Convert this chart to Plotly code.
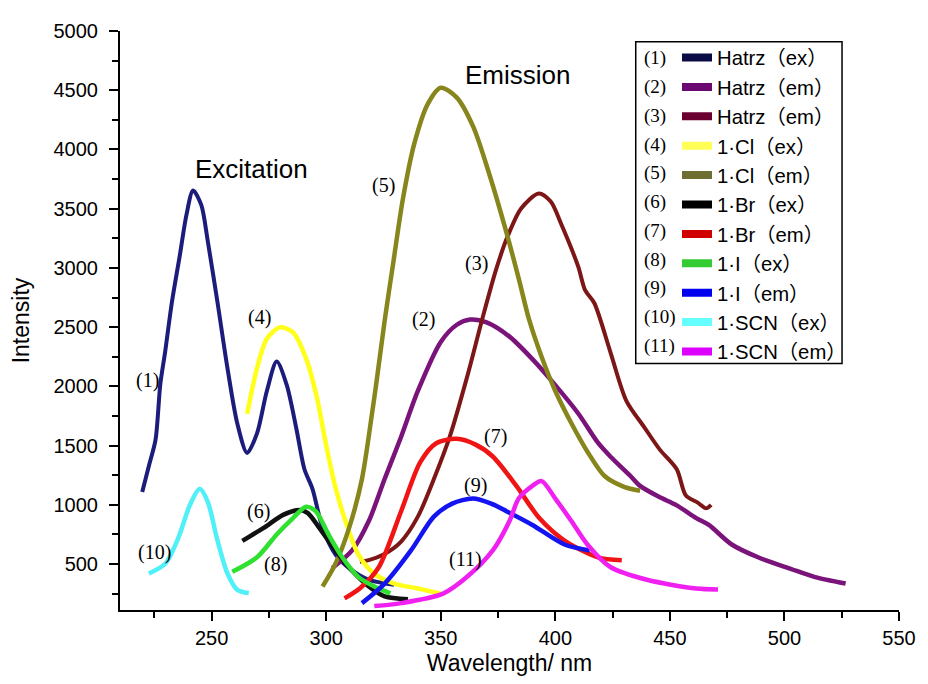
import plotly.graph_objects as go

# ---------------- data ----------------
hatrz_ex_x = [219.7, 222.6, 225.5, 227.6, 229.7, 232.6, 236.2, 239.0, 241.9, 245.5, 248.3, 252.6, 256.9,
              261.2, 265.5, 269.8, 274.1, 278.4, 282.7, 287.0, 290.5, 294.0, 298.4, 304.0, 311.0, 318.6, 329.7]
hatrz_ex_y = [1108, 1328, 1548, 2019, 2291, 2704, 3117, 3448, 3654, 3530, 3227, 2704, 2154,
              1686, 1438, 1603, 1961, 2209, 2016, 1640, 1300, 1135, 805, 582, 450, 367, 326]

hatrz_em2_x = [302.7, 311.3, 318.6, 325.5, 332.7, 340.0, 350.0, 357.0, 362.8, 370.0, 380.0, 390.0, 398.5,
               410.0, 418.6, 424.0, 432.8, 437.0, 445.0, 453.0, 461.5, 467.0, 477.0, 488.5, 503.0, 513.0, 526.7]
hatrz_em2_y = [467, 615, 863, 1218, 1575, 1961, 2375, 2520, 2564, 2540, 2420, 2230, 2044,
               1771, 1524, 1408, 1243, 1160, 1070, 995, 888, 830, 665, 557, 458, 392, 335]

hatrz_em3_x = [314.7, 318.6, 325.0, 332.7, 340.0, 347.0, 354.0, 361.5, 368.0, 374.0, 379.0, 385.0, 392.8,
               398.0, 402.7, 410.0, 413.0, 417.0, 424.0, 431.0, 438.8, 445.6, 453.0, 457.0, 462.0, 465.8, 468.0]
hatrz_em3_y = [520, 533, 580, 690, 900, 1218, 1580, 2080, 2560, 2977, 3258, 3500, 3629,
               3560, 3365, 3010, 2812, 2704, 2292, 1878, 1656, 1466, 1300, 1078, 1020, 970, 1000]

cl_ex_x = [265.5, 269.8, 274.1, 279.8, 285.5, 291.2, 296.0, 300.0, 304.0, 308.4, 314.0, 321.0, 329.7, 340.0, 350.0]
cl_ex_y = [1769, 2154, 2402, 2498, 2457, 2236, 1900, 1500, 1150, 863, 582, 417, 335, 293, 250]

cl_em_x = [298.4, 304.0, 310.0, 315.6, 320.0, 322.0, 325.6, 329.2, 333.5, 338.5, 344.3, 350.0, 357.0,
           364.2, 371.4, 378.5, 384.2, 388.5, 394.0, 400.0, 407.0, 414.3, 421.5, 430.0, 437.0]
cl_em_y = [310, 500, 805, 1218, 1771, 2044, 2567, 3035, 3585, 4053, 4383, 4521, 4438,
           4190, 3778, 3310, 2897, 2567, 2250, 1961, 1689, 1440, 1243, 1152, 1119]

br_ex_x = [263.4, 272.7, 281.2, 288.4, 292.0, 297.0, 304.0, 311.0, 318.6, 325.5, 335.7]
br_ex_y = [695, 805, 915, 957, 930, 805, 615, 450, 310, 227, 202]

br_em_x = [308.0, 315.0, 323.0, 332.7, 341.0, 348.0, 357.0, 365.0, 372.7, 383.0, 393.0, 404.0, 418.6, 429.0]
br_em_y = [210, 300, 475, 946, 1358, 1520, 1557, 1510, 1408, 1160, 888, 698, 557, 533]

i_ex_x = [259.0, 269.8, 278.4, 285.5, 291.2, 295.5, 301.0, 307.0, 314.0, 321.0, 328.0]
i_ex_y = [434, 557, 750, 888, 984, 944, 750, 557, 392, 310, 252]

i_em_x = [315.6, 325.5, 337.0, 347.0, 355.0, 364.0, 372.0, 378.7, 390.0, 404.0, 415.0]
i_em_y = [170, 335, 615, 900, 1010, 1053, 1010, 946, 830, 665, 615]

scn_ex_x = [222.6, 229.7, 235.5, 240.5, 244.8, 248.3, 252.6, 256.9, 261.2, 266.2]
scn_ex_y = [420, 502, 723, 998, 1135, 1025, 695, 420, 282, 255]

scn_em_x = [321.0, 332.7, 351.0, 361.5, 372.7, 380.0, 384.0, 390.0, 394.0, 400.0, 407.0, 414.0,
            424.0, 440.0, 461.5, 471.0]
scn_em_y = [145, 170, 250, 392, 615, 863, 1053, 1160, 1200, 1053, 863, 665, 475, 367, 293, 285]

series_names = ["Hatrz\uff08ex\uff09", "Hatrz\uff08em\uff09", "Hatrz\uff08em\uff09", "1\u00b7Cl\uff08ex\uff09",
                "1\u00b7Cl\uff08em\uff09", "1\u00b7Br\uff08ex\uff09", "1\u00b7Br\uff08em\uff09", "1\u00b7I\uff08ex\uff09",
                "1\u00b7I\uff08em\uff09", "1\u00b7SCN\uff08ex\uff09", "1\u00b7SCN\uff08em\uff09"]
series_tags = ["(1)", "(2)", "(3)", "(4)", "(5)", "(6)", "(7)", "(8)", "(9)", "(10)", "(11)"]

label_text = ["(1)", "(4)", "(6)", "(10)", "(8)", "(5)", "(3)", "(2)", "(7)", "(9)", "(11)", "Excitation", "Emission"]
label_x = [222, 271, 270.5, 225, 278, 325, 365.8, 342.6, 374, 365, 360.6, 267.5, 383.4]
label_y = [2050, 2580, 946, 600, 500, 3695, 3035, 2564, 1573, 1160, 540, 3836, 4630]

x_tick_vals = [250, 300, 350, 400, 450, 500, 550]
y_tick_vals = [500, 1000, 1500, 2000, 2500, 3000, 3500, 4000, 4500, 5000]

# ---------------- styling ----------------
colors = ["#1c1c7c", "#7a147a", "#7d1616", "#ffff1a", "#86861c", "#111111",
          "#f01414", "#30e030", "#1414f0", "#50f0f8", "#f020f0"]
legend_colors = ["#0a0a45", "#6a0a70", "#6a0030", "#ffff55", "#6e6e30", "#000000",
                 "#d00000", "#33cc33", "#0000ee", "#66ffff", "#dd00ff"]

all_x = [hatrz_ex_x, hatrz_em2_x, hatrz_em3_x, cl_ex_x, cl_em_x, br_ex_x, br_em_x,
         i_ex_x, i_em_x, scn_ex_x, scn_em_x]
all_y = [hatrz_ex_y, hatrz_em2_y, hatrz_em3_y, cl_ex_y, cl_em_y, br_ex_y, br_em_y,
         i_ex_y, i_em_y, scn_ex_y, scn_em_y]

fig = go.Figure()
for i in range(11):
    w = 4 if i in (0, 2) else 4.5
    fig.add_trace(go.Scatter(x=all_x[i], y=all_y[i], mode="lines",
                             line=dict(color=colors[i], width=w, shape="spline", smoothing=0.8),
                             showlegend=False, hoverinfo="skip"))
# legend-only entries
for i in range(11):
    fig.add_trace(go.Scatter(x=[None], y=[None], mode="lines", name=series_names[i],
                             line=dict(color=legend_colors[i], width=8), showlegend=True))

sans = "Liberation Sans, Arial, Noto Sans CJK SC, sans-serif"
serif = "Liberation Serif, Times New Roman, serif"

# page body has an 8px margin, so the figure is drawn 8px in from the window edge
OFF = 8
W, H = 920, 676
L, T = 114 - OFF, 22 - OFF
R = W - (907 - OFF)
B = H - (614 - OFF)
pw, ph = W - L - R, H - T - B

def px_to_paper_x(px):
    return (px - OFF - L) / pw

def px_to_paper_y(py):
    return (H - B - (py - OFF)) / ph

annotations = []
for t, x, y in zip(label_text, label_x, label_y):
    big = t in ("Excitation", "Emission")
    annotations.append(dict(x=x, y=y, xref="x", yref="y", text=t, showarrow=False,
                            font=dict(family=sans if big else serif, size=26 if big else 20, color="#000000")))
for i, tag in enumerate(series_tags):
    annotations.append(dict(x=px_to_paper_x(645), y=px_to_paper_y(50 + 29.4 * i), xref="paper", yref="paper",
                            xanchor="left", yanchor="middle", text=tag, showarrow=False,
                            font=dict(family=serif, size=19, color="#000000")))

fig.update_layout(
    width=W, height=H,
    margin=dict(l=L, r=R, t=T, b=B, pad=0),
    paper_bgcolor="white", plot_bgcolor="white",
    font=dict(family=sans, color="#000000"),
    annotations=annotations,
    shapes=[dict(type="rect", xref="paper", yref="paper",
                 x0=px_to_paper_x(639), x1=px_to_paper_x(849), y0=px_to_paper_y(362), y1=px_to_paper_y(33),
                 line=dict(color="#000000", width=1.5), fillcolor="rgba(0,0,0,0)")],
    legend=dict(x=px_to_paper_x(681), y=px_to_paper_y(29), xanchor="left", yanchor="top",
                bgcolor="rgba(0,0,0,0)", borderwidth=0,
                font=dict(family=sans, size=20.3, color="#000000"), itemwidth=30),
    xaxis=dict(range=[210, 550], tickvals=x_tick_vals, showline=True, linecolor="#000000", linewidth=2,
               ticks="outside", ticklen=9, tickwidth=2, tickcolor="#000000",
               minor=dict(dtick=25, tick0=225, ticks="outside", ticklen=6, tickwidth=2, tickcolor="#000000"),
               showgrid=False, zeroline=False, tickfont=dict(size=20),
               title=dict(text="Wavelength/ nm", font=dict(size=23), standoff=7)),
    yaxis=dict(range=[112, 5000], tickvals=y_tick_vals, showline=True, linecolor="#000000", linewidth=2,
               ticks="outside", ticklen=9, tickwidth=2, tickcolor="#000000", ticklabelstandoff=7,
               minor=dict(dtick=250, tick0=250, ticks="outside", ticklen=6, tickwidth=2, tickcolor="#000000"),
               showgrid=False, zeroline=False, tickfont=dict(size=20),
               title=dict(text="Intensity", font=dict(size=23), standoff=17)),
)

fig.write_html("out.html")
